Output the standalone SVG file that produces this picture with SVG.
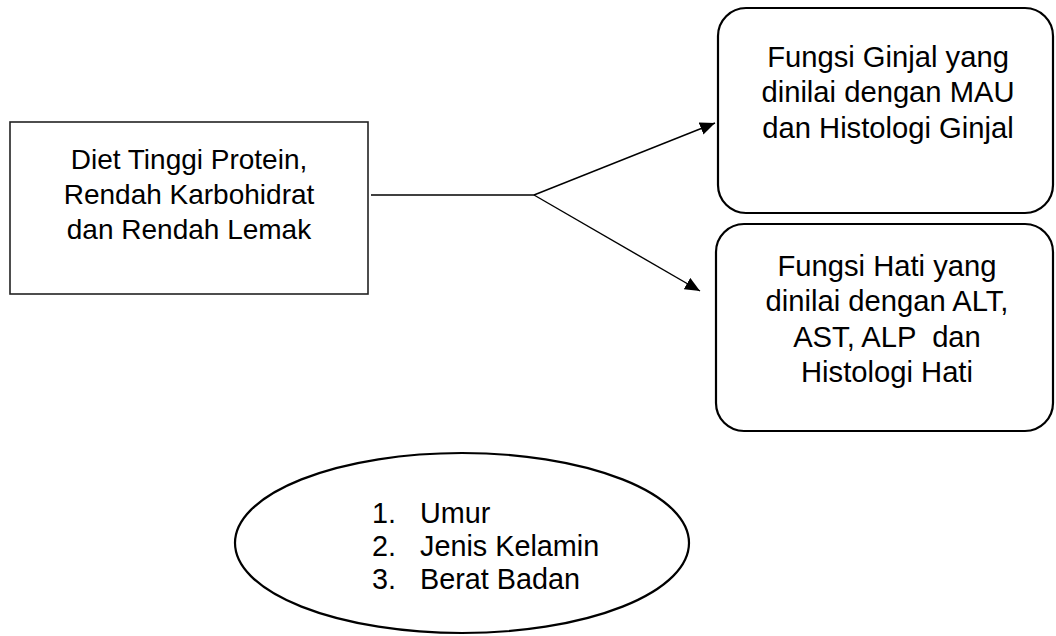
<svg xmlns="http://www.w3.org/2000/svg" width="1056" height="636" viewBox="0 0 1056 636">
  <style>
    .t { font-family: "Liberation Sans", Arial, sans-serif; font-size: 28px; fill: #000; }
    .r { font-size: 29.2px; }
    .e { font-size: 28.8px; }
    .c { text-anchor: middle; }
    .box { fill: #fff; stroke: #000; stroke-width: 2.2; }
    .rect { fill: #fff; stroke: #222; stroke-width: 1.6; }
    .conn { fill: none; stroke: #000; stroke-width: 1.4; }
  </style>
  <defs>
    <marker id="arrow" markerUnits="userSpaceOnUse" markerWidth="16" markerHeight="13" refX="15" refY="6.5" orient="auto">
      <path d="M0,0 L15,6.5 L0,13 z" fill="#000"/>
    </marker>
  </defs>
  <rect width="1056" height="636" fill="#fff"/>

  <g id="diet">
    <rect class="rect" x="10" y="122" width="358" height="172"/>
    <text class="t c" x="189" y="169">Diet Tinggi Protein,</text>
    <text class="t c" x="189" y="204">Rendah Karbohidrat</text>
    <text class="t c" x="189" y="239">dan Rendah Lemak</text>
  </g>

  <g id="ginjal">
    <rect class="box" x="718" y="8" width="335" height="205" rx="28" ry="28"/>
    <text class="t r c" x="888" y="67">Fungsi Ginjal yang</text>
    <text class="t r c" x="888" y="102">dinilai dengan MAU</text>
    <text class="t r c" x="888" y="138">dan Histologi Ginjal</text>
  </g>

  <g id="hati">
    <rect class="box" x="716" y="224" width="337" height="207" rx="28" ry="28"/>
    <text class="t r c" x="887" y="276">Fungsi Hati yang</text>
    <text class="t r c" x="887" y="311">dinilai dengan ALT,</text>
    <text class="t r c" x="887" y="347" xml:space="preserve">AST, ALP  dan</text>
    <text class="t r c" x="887" y="382">Histologi Hati</text>
  </g>

  <g id="faktor">
    <ellipse class="box" cx="462" cy="543" rx="227" ry="90"/>
    <text class="t e" x="372" y="523">1.</text>
    <text class="t e" x="420" y="523">Umur</text>
    <text class="t e" x="372" y="556">2.</text>
    <text class="t e" x="420" y="556">Jenis Kelamin</text>
    <text class="t e" x="372" y="589">3.</text>
    <text class="t e" x="420" y="589">Berat Badan</text>
  </g>

  <g id="connectors">
    <line class="conn" x1="371" y1="195" x2="534" y2="195"/>
    <line class="conn" x1="534" y1="195" x2="715" y2="123" marker-end="url(#arrow)"/>
    <line class="conn" x1="534" y1="195" x2="700" y2="291" marker-end="url(#arrow)"/>
  </g>
</svg>
